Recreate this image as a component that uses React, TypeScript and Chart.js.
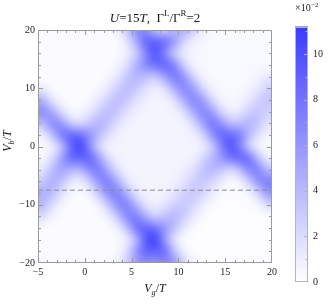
import React, { useEffect, useRef } from "react";
import { Chart, registerables } from "chart.js";

Chart.register(...registerables);

const FONT = "'Liberation Serif', 'Times New Roman', serif";
const FRAME = "#9a9a9a";
const TEXT = "#1a1a1a";

// Axis ranges and ticks
const vgRange = [-5, 20];
const vbRange = [-20, 20];
const vgTicks = [-5, 0, 5, 10, 15, 20];
const vbTicks = [-20, -10, 0, 10, 20];
const cbTicks = [0, 2, 4, 6, 8, 10];
const cbMax = 11.2; // colour-bar top, in units of 10^-2
const dashVb = -7.5; // dashed reference line

// Heatmap grid: cell centres
const vgValues = [-4.5, -3.5, -2.5, -1.5, -0.5, 0.5, 1.5, 2.5, 3.5, 4.5, 5.5, 6.5, 7.5, 8.5, 9.5, 10.5, 11.5, 12.5, 13.5, 14.5, 15.5, 16.5, 17.5, 18.5, 19.5];
const vbValues = [20, 18, 16, 14, 12, 10, 8, 6, 4, 2, 0, -2, -4, -6, -8, -10, -12, -14, -16, -18, -20];

// Values (x10^-2), one row per Vb value, one entry per Vg value
const zVbP20 = [0.2, 0.2, 0.2, 0.2, 0.2, 0.2, 0.2, 0.3, 0.9, 3.2, 6.6, 6.7, 3.8, 2.6, 4.0, 4.8, 3.0, 1.1, 0.5, 0.4, 0.4, 0.4, 0.4, 0.4, 0.4];
const zVbP18 = [0.2, 0.2, 0.2, 0.2, 0.2, 0.2, 0.2, 0.2, 0.3, 1.4, 4.8, 8.9, 9.0, 8.5, 6.1, 2.7, 0.9, 0.5, 0.4, 0.4, 0.4, 0.4, 0.4, 0.4, 0.4];
const zVbP16 = [0.2, 0.2, 0.2, 0.2, 0.2, 0.2, 0.2, 0.2, 0.4, 1.0, 2.8, 6.8, 10.0, 7.0, 3.2, 1.2, 0.6, 0.4, 0.4, 0.4, 0.4, 0.4, 0.4, 0.4, 0.4];
const zVbP14 = [0.2, 0.2, 0.2, 0.2, 0.2, 0.2, 0.2, 0.2, 0.6, 1.9, 4.5, 6.9, 8.2, 9.0, 7.4, 2.9, 0.8, 0.4, 0.4, 0.4, 0.4, 0.4, 0.4, 0.4, 0.4];
const zVbP12 = [0.2, 0.2, 0.2, 0.2, 0.2, 0.2, 0.2, 0.5, 1.4, 3.2, 4.3, 3.7, 3.1, 5.3, 7.8, 6.5, 2.7, 0.8, 0.4, 0.4, 0.4, 0.4, 0.4, 0.6, 1.3];
const zVbP10 = [1.1, 0.3, 0.2, 0.2, 0.2, 0.2, 0.5, 1.3, 2.8, 3.8, 3.2, 1.7, 1.0, 1.7, 4.6, 7.0, 5.9, 2.5, 0.8, 0.4, 0.4, 0.4, 0.6, 1.3, 2.6];
const zVbP8 = [4.3, 1.4, 0.4, 0.2, 0.2, 0.5, 1.3, 2.8, 3.8, 3.2, 1.7, 0.9, 0.6, 0.7, 1.7, 4.6, 7.0, 5.9, 2.5, 0.8, 0.4, 0.6, 1.3, 2.6, 3.3];
const zVbP6 = [6.6, 5.0, 1.9, 0.5, 0.5, 1.3, 2.8, 3.8, 3.2, 1.7, 0.9, 0.6, 0.6, 0.6, 0.7, 1.7, 4.6, 7.0, 5.9, 2.5, 1.0, 1.3, 2.6, 3.3, 2.6];
const zVbP4 = [3.9, 6.9, 6.0, 2.9, 2.0, 3.3, 4.3, 3.6, 1.8, 0.9, 0.6, 0.6, 0.6, 0.6, 0.6, 0.7, 1.9, 5.0, 7.8, 6.4, 3.8, 3.7, 4.3, 3.4, 1.6];
const zVbP2 = [0.9, 3.5, 7.7, 8.8, 8.4, 6.3, 4.1, 1.9, 0.9, 0.6, 0.6, 0.6, 0.6, 0.6, 0.6, 0.6, 0.8, 2.0, 5.8, 8.8, 8.5, 7.5, 4.2, 1.8, 0.7];
const zVb0 = [0.25, 0.8, 3.4, 8.6, 11.0, 6.6, 2.2, 0.8, 0.6, 0.6, 0.6, 0.6, 0.6, 0.6, 0.6, 0.6, 0.6, 0.9, 2.4, 6.5, 10.0, 7.6, 2.9, 0.7, 0.3];
const zVbM2 = [0.5, 1.9, 5.4, 8.5, 8.8, 9.0, 5.7, 2.0, 0.8, 0.6, 0.6, 0.6, 0.6, 0.6, 0.6, 0.6, 0.8, 2.0, 4.0, 5.8, 7.7, 8.8, 8.4, 3.9, 1.0];
const zVbM4 = [1.4, 3.8, 5.4, 4.4, 4.1, 6.8, 7.6, 4.7, 1.7, 0.7, 0.6, 0.6, 0.6, 0.6, 0.6, 0.9, 1.7, 3.3, 4.2, 3.4, 2.2, 3.5, 6.9, 7.4, 3.9];
const zVbM6 = [3.1, 4.6, 3.6, 1.4, 0.9, 2.8, 6.3, 7.4, 4.6, 1.6, 0.7, 0.6, 0.6, 0.6, 0.8, 1.4, 2.6, 3.2, 2.5, 1.2, 0.4, 0.6, 2.7, 6.3, 7.4];
const zVbM8 = [4.6, 4.0, 1.8, 0.5, 0.3, 0.8, 3.2, 6.7, 7.3, 4.2, 1.5, 0.7, 0.6, 0.8, 1.4, 2.6, 3.2, 2.5, 1.2, 0.4, 0.15, 0.2, 0.5, 2.4, 6.0];
const zVbM10 = [4.1, 2.0, 0.6, 0.3, 0.25, 0.3, 0.8, 3.2, 6.7, 7.3, 4.2, 1.5, 0.9, 1.4, 2.6, 3.2, 2.5, 1.2, 0.4, 0.15, 0.15, 0.15, 0.2, 0.5, 2.1];
const zVbM12 = [2.1, 0.7, 0.3, 0.2, 0.2, 0.2, 0.3, 0.9, 3.3, 6.9, 7.5, 4.6, 2.7, 3.6, 4.2, 3.1, 1.4, 0.4, 0.1, 0.1, 0.1, 0.1, 0.1, 0.1, 0.2];
const zVbM14 = [0.2, 0.2, 0.2, 0.2, 0.2, 0.2, 0.2, 0.3, 0.9, 3.6, 8.1, 8.8, 8.1, 6.0, 3.8, 1.5, 0.4, 0.1, 0.1, 0.1, 0.1, 0.1, 0.1, 0.1, 0.1];
const zVbM16 = [0.2, 0.2, 0.2, 0.2, 0.2, 0.2, 0.2, 0.2, 0.3, 1.0, 3.9, 9.5, 11.0, 6.0, 1.7, 0.3, 0.1, 0.1, 0.1, 0.1, 0.1, 0.1, 0.1, 0.1, 0.1];
const zVbM18 = [0.2, 0.2, 0.2, 0.2, 0.2, 0.2, 0.2, 0.2, 0.5, 2.0, 6.1, 8.8, 9.0, 8.6, 4.0, 0.9, 0.2, 0.1, 0.1, 0.1, 0.1, 0.1, 0.1, 0.1, 0.1];
const zVbM20 = [0.2, 0.2, 0.2, 0.2, 0.2, 0.2, 0.2, 0.3, 0.8, 2.8, 5.6, 6.4, 5.8, 6.8, 6.1, 2.9, 0.7, 0.2, 0.1, 0.1, 0.1, 0.1, 0.1, 0.1, 0.1];

const zRows = [zVbP20, zVbP18, zVbP16, zVbP14, zVbP12, zVbP10, zVbP8, zVbP6, zVbP4, zVbP2, zVb0,
  zVbM2, zVbM4, zVbM6, zVbM8, zVbM10, zVbM12, zVbM14, zVbM16, zVbM18, zVbM20];

const LOW = [255, 255, 255];
const HIGH = [58, 58, 255];

function colourFor(v: number): number[] {
  const t = Math.max(0, Math.min(1, v / cbMax));
  return [0, 1, 2].map((k) => Math.round(LOW[k] + (HIGH[k] - LOW[k]) * t));
}

const fmt = (v: number) => (v < 0 ? "\u2212" + Math.abs(v) : String(v));

type Part = { t: string; it?: boolean; sup?: boolean; sub?: boolean };

function drawRich(ctx: CanvasRenderingContext2D, parts: Part[], cx: number, base: number, size: number) {
  const fontOf = (p: Part) => {
    const s = p.sup || p.sub ? size * 0.68 : size;
    return `${p.it ? "italic " : ""}${s}px ${FONT}`;
  };
  let total = 0;
  const widths = parts.map((p) => {
    ctx.font = fontOf(p);
    const w = ctx.measureText(p.t).width;
    total += w;
    return w;
  });
  let x = cx - total / 2;
  ctx.textAlign = "left";
  ctx.textBaseline = "alphabetic";
  parts.forEach((p, i) => {
    ctx.font = fontOf(p);
    const dy = p.sup ? -size * 0.42 : p.sub ? size * 0.25 : 0;
    ctx.fillText(p.t, x, base + dy);
    x += widths[i];
  });
}

const heatmapPlugin = {
  id: "heatmap",
  beforeDatasetsDraw(chart: any) {
    const { ctx, chartArea: a, scales } = chart;
    const x = scales.x;
    const y = scales.y;
    const cols = vgValues.length;
    const rows = vbValues.length;
    const W = cols + 2;
    const H = rows + 2;
    const small = document.createElement("canvas");
    small.width = W;
    small.height = H;
    const sctx = small.getContext("2d")!;
    const img = sctx.createImageData(W, H);
    for (let j = 0; j < H; j++) {
      const r = Math.max(0, Math.min(rows - 1, j - 1));
      for (let i = 0; i < W; i++) {
        const c = Math.max(0, Math.min(cols - 1, i - 1));
        const col = colourFor(zRows[r][c]);
        const o = (j * W + i) * 4;
        img.data[o] = col[0];
        img.data[o + 1] = col[1];
        img.data[o + 2] = col[2];
        img.data[o + 3] = 255;
      }
    }
    sctx.putImageData(img, 0, 0);
    const dVg = vgValues[1] - vgValues[0];
    const dVb = vbValues[0] - vbValues[1];
    const left = x.getPixelForValue(vgValues[0] - 1.5 * dVg);
    const right = x.getPixelForValue(vgValues[cols - 1] + 1.5 * dVg);
    const top = y.getPixelForValue(vbValues[0] + 1.5 * dVb);
    const bottom = y.getPixelForValue(vbValues[rows - 1] - 1.5 * dVb);
    ctx.save();
    ctx.beginPath();
    ctx.rect(a.left, a.top, a.right - a.left, a.bottom - a.top);
    ctx.clip();
    ctx.imageSmoothingEnabled = true;
    (ctx as any).imageSmoothingQuality = "high";
    ctx.filter = "blur(3px)";
    ctx.drawImage(small, left, top, right - left, bottom - top);
    ctx.restore();
  },
};

const framePlugin = {
  id: "frame",
  afterDatasetsDraw(chart: any) {
    const { ctx, chartArea: a, scales } = chart;
    const x = scales.x;
    const y = scales.y;
    const L = Math.round(a.left) + 0.5;
    const R = Math.round(a.right) - 0.5;
    const T = Math.round(a.top) + 0.5;
    const B = Math.round(a.bottom) - 0.5;
    ctx.save();
    ctx.strokeStyle = FRAME;
    ctx.lineWidth = 1;
    ctx.strokeRect(L, T, R - L, B - T);
    ctx.beginPath();
    for (let v = vgRange[0] + 1; v < vgRange[1]; v += 1) {
      const px = Math.round(x.getPixelForValue(v)) + 0.5;
      const len = v % 5 === 0 ? 4.5 : 2.5;
      ctx.moveTo(px, B);
      ctx.lineTo(px, B - len);
      ctx.moveTo(px, T);
      ctx.lineTo(px, T + len);
    }
    for (let v = vbRange[0] + 2; v < vbRange[1]; v += 2) {
      const py = Math.round(y.getPixelForValue(v)) + 0.5;
      const len = v % 10 === 0 ? 4.5 : 2.5;
      ctx.moveTo(L, py);
      ctx.lineTo(L + len, py);
      ctx.moveTo(R, py);
      ctx.lineTo(R - len, py);
    }
    ctx.stroke();
    ctx.restore();
  },
  afterDraw(chart: any) {
    const { ctx, chartArea: a } = chart;
    ctx.save();
    ctx.fillStyle = TEXT;
    const cx = (a.left + a.right) / 2;
    drawRich(ctx, [
      { t: "U", it: true }, { t: "=15" }, { t: "T", it: true }, { t: ",  \u0393" },
      { t: "L", sup: true }, { t: "/\u0393" }, { t: "R", sup: true }, { t: "=2" },
    ], cx, 21.5, 13);
    drawRich(ctx, [{ t: "V", it: true }, { t: "g", it: true, sub: true }, { t: "/" }, { t: "T", it: true }], cx, 292, 12);
    ctx.translate(10.5, 141);
    ctx.rotate(-Math.PI / 2);
    drawRich(ctx, [{ t: "V", it: true }, { t: "b", it: true, sub: true }, { t: "/" }, { t: "T", it: true }], 0, 0, 12);
    ctx.restore();
  },
};

const colourbarPlugin = {
  id: "colourbar",
  beforeDatasetsDraw(chart: any) {
    const { ctx, chartArea: a, scales } = chart;
    const y = scales.y;
    const y0 = y.getPixelForValue(0);
    const y1 = y.getPixelForValue(cbMax);
    const g = ctx.createLinearGradient(0, y0, 0, y1);
    g.addColorStop(0, `rgb(${LOW.join(",")})`);
    g.addColorStop(1, `rgb(${HIGH.join(",")})`);
    ctx.save();
    ctx.fillStyle = g;
    ctx.fillRect(a.left, y1, a.right - a.left, y0 - y1);
    ctx.strokeStyle = "#b4b4b4";
    ctx.lineWidth = 1;
    const L = Math.round(a.left) + 0.5;
    const R = Math.round(a.right) - 0.5;
    ctx.strokeRect(L, Math.round(y1) + 0.5, R - L, Math.round(y0) - Math.round(y1) - 1);
    ctx.beginPath();
    for (let v = 1; v <= 11; v++) {
      const py = Math.round(y.getPixelForValue(v)) + 0.5;
      const len = v % 2 === 0 ? 3.5 : 2;
      ctx.moveTo(R, py);
      ctx.lineTo(R - len, py);
    }
    ctx.stroke();
    ctx.fillStyle = TEXT;
    ctx.textAlign = "left";
    ctx.textBaseline = "alphabetic";
    ctx.font = `10px ${FONT}`;
    ctx.fillText("\u00d710", a.left, 11);
    const w = ctx.measureText("\u00d710").width;
    ctx.font = `7px ${FONT}`;
    ctx.fillText("\u22122", a.left + w + 0.5, 6.5);
    ctx.restore();
  },
};

export default function App() {
  const mainRef = useRef<HTMLCanvasElement>(null);
  const cbRef = useRef<HTMLCanvasElement>(null);

  useEffect(() => {
    const tickFont = { family: FONT, size: 10 };
    const main = new Chart(mainRef.current!, {
      type: "scatter",
      data: {
        datasets: [
          {
            type: "line",
            data: [
              { x: vgRange[0], y: dashVb },
              { x: vgRange[1], y: dashVb },
            ],
            borderColor: "#8c8c96",
            borderWidth: 1,
            borderDash: [5, 3],
            pointRadius: 0,
            fill: false,
          } as any,
        ],
      },
      options: {
        animation: false,
        responsive: false,
        maintainAspectRatio: false,
        layout: { padding: { left: 0, right: 60, top: 30, bottom: 0 } },
        plugins: { legend: { display: false }, tooltip: { enabled: false }, title: { display: false } },
        scales: {
          x: {
            type: "linear",
            min: vgRange[0],
            max: vgRange[1],
            afterBuildTicks: (s: any) => { s.ticks = vgTicks.map((v) => ({ value: v })); },
            afterFit: (s: any) => { s.height = 44; },
            grid: { display: false, drawTicks: false },
            border: { display: false },
            ticks: { font: tickFont, color: TEXT, padding: 3, maxRotation: 0, autoSkip: false, callback: (v: any) => fmt(Number(v)) },
          },
          y: {
            type: "linear",
            min: vbRange[0],
            max: vbRange[1],
            afterBuildTicks: (s: any) => { s.ticks = vbTicks.map((v) => ({ value: v })); },
            afterFit: (s: any) => { s.width = 38; },
            grid: { display: false, drawTicks: false },
            border: { display: false },
            ticks: { font: tickFont, color: TEXT, padding: 3, autoSkip: false, callback: (v: any) => fmt(Number(v)) },
          },
        },
      } as any,
      plugins: [heatmapPlugin, framePlugin],
    });

    const cb = new Chart(cbRef.current!, {
      type: "scatter",
      data: { datasets: [] },
      options: {
        animation: false,
        responsive: false,
        maintainAspectRatio: false,
        layout: { padding: { left: 15, right: 0, top: 26.5, bottom: 25 } },
        plugins: { legend: { display: false }, tooltip: { enabled: false } },
        scales: {
          x: { type: "linear", display: false },
          y: {
            type: "linear",
            position: "right",
            min: 0,
            max: cbMax,
            afterBuildTicks: (s: any) => { s.ticks = cbTicks.map((v) => ({ value: v })); },
            afterFit: (s: any) => { s.width = 24; },
            grid: { display: false, drawTicks: false },
            border: { display: false },
            ticks: { font: tickFont, color: TEXT, padding: 5, autoSkip: false },
          },
        },
      } as any,
      plugins: [colourbarPlugin],
    });

    return () => {
      main.destroy();
      cb.destroy();
    };
  }, []);

  return (
    <div style={{ position: "fixed", left: 0, top: 0, width: 332, height: 307, background: "#fff" }}>
      <canvas ref={mainRef} width={332} height={307} style={{ position: "absolute", left: 0, top: 0 }} />
      <canvas ref={cbRef} width={52} height={307} style={{ position: "absolute", left: 280, top: 0 }} />
    </div>
  );
}
